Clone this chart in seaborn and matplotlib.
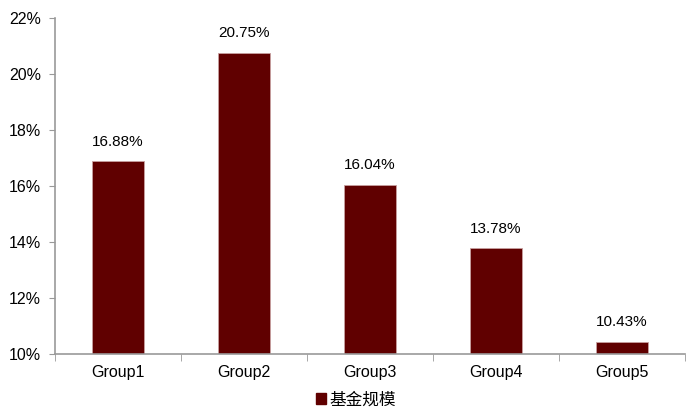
import matplotlib
matplotlib.use("Agg")
import matplotlib.pyplot as plt
import seaborn as sns
import pandas as pd
from matplotlib.patches import Patch

groups = ["Group1", "Group2", "Group3", "Group4", "Group5"]
values = [16.88, 20.75, 16.04, 13.78, 10.43]
series_name = "基金规模"

df = pd.DataFrame({"group": groups, "value": values})

sns.set_style("white")
plt.rcParams['font.family'] = ['Liberation Sans', 'Noto Sans CJK SC', 'DejaVu Sans']
plt.rcParams['text.color'] = 'black'
plt.rcParams['xtick.color'] = 'black'
plt.rcParams['ytick.color'] = 'black'

fig = plt.figure(figsize=(7, 4.19), dpi=100)
ax = fig.add_axes([0.0786, 0.155, 0.9, 0.802])

bar_color = "#600000"
sns.barplot(data=df, x="group", y="value", color=bar_color, width=0.41,
            edgecolor="#c8a0a0", linewidth=0.6, ax=ax, saturation=1)

ax.set_ylim(10, 22)
ax.set_yticks(range(10, 23, 2))
ax.set_yticklabels([f"{t}%" for t in range(10, 23, 2)], fontsize=11.5)
ax.set_xlim(-0.5, len(groups) - 0.5)
ax.set_xticks(range(len(groups)))
ax.set_xticklabels(groups, fontsize=11.5)
ax.tick_params(axis="x", length=0, pad=8)
ax.tick_params(axis="y", length=4, color="#999999", direction="out", left=True, pad=6)
# boundary ticks on the category axis
ax.set_xticks([i - 0.5 for i in range(len(groups) + 1)], minor=True)
ax.tick_params(axis="x", which="minor", length=5, color="#999999", direction="out", bottom=True)

ax.set_xlabel("")
ax.set_ylabel("")
for s in ["top", "right"]:
    ax.spines[s].set_visible(False)
for s in ["left", "bottom"]:
    ax.spines[s].set_color("#999999")
    ax.spines[s].set_linewidth(1.2)

for i, v in enumerate(values):
    ax.text(i, v + 0.45, f"{v:.2f}%", ha="center", va="bottom", fontsize=11,
            color="black", family=['Liberation Sans', 'DejaVu Sans'])

handle = Patch(facecolor=bar_color, edgecolor=bar_color, label=series_name)
fig.legend(handles=[handle], loc="lower center", bbox_to_anchor=(0.508, -0.008),
           frameon=False, fontsize=12, handlelength=0.6, handleheight=0.6,
           handletextpad=0.2, labelcolor="black")

fig.savefig("out.png", dpi=100)
